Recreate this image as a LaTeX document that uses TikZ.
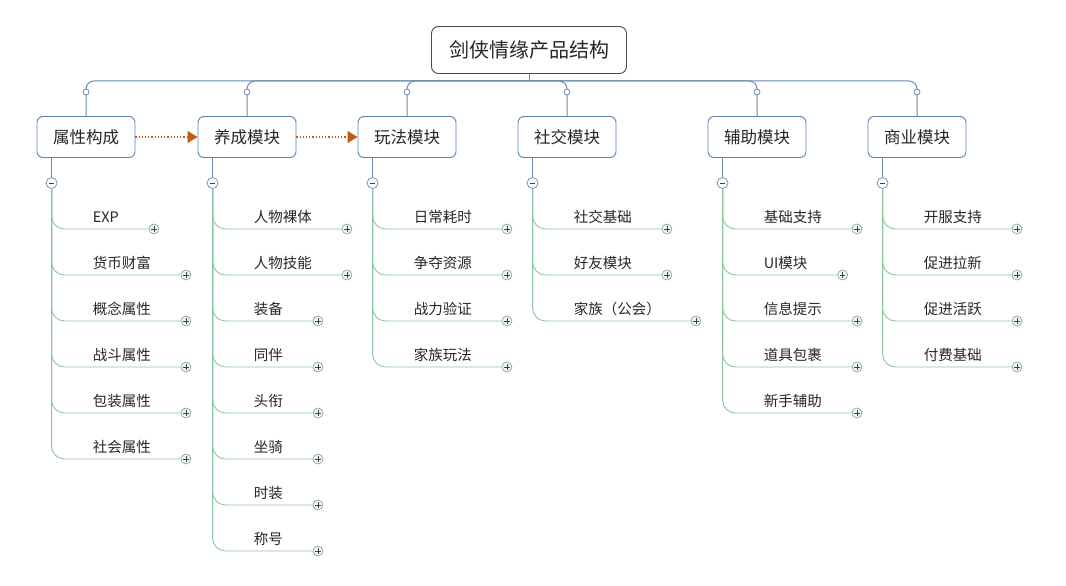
\documentclass[tikz,border=0pt]{standalone}
\usepackage{fontspec}
\setmainfont{Noto Sans CJK SC}
\usetikzlibrary{arrows.meta,calc,positioning}
\definecolor{busc}{HTML}{6A8AAE}
\definecolor{boxc}{HTML}{5A83B8}
\definecolor{leafc}{HTML}{8CC5A0}
\definecolor{arrc}{HTML}{C55A11}
\tikzset{root/.style={draw=black!70, line width=0.9pt, rounded corners=7pt, minimum width=195pt, minimum height=47pt,
    text=black!85, font=\fontsize{20}{24}\selectfont},
  modbox/.style={draw=boxc, line width=0.9pt, rounded corners=6pt, fill=white, minimum width=98pt, minimum height=41pt,
    text=black!85, font=\fontsize{16.5}{20}\selectfont},
  bus/.style={draw=busc, line width=1pt},
  knob/.style={circle, draw=busc, fill=white, inner sep=0pt, minimum size=6pt, line width=0.8pt},
  fold/.style={circle, fill=white, inner sep=0pt, line width=0.7pt},
  minus/.style={fold, draw=busc, minimum size=11pt, path picture={
    \draw[black!75, line width=0.8pt] ([xshift=-2.8pt]path picture bounding box.center) -- ([xshift=2.8pt]path picture bounding box.center);}},
  plus/.style={fold, draw=leafc!60!gray, fill=leafc!12, minimum size=10pt, path picture={
    \draw[black!75, line width=0.7pt] ([xshift=-2.6pt]path picture bounding box.center) -- ([xshift=2.6pt]path picture bounding box.center)
      ([yshift=-2.6pt]path picture bounding box.center) -- ([yshift=2.6pt]path picture bounding box.center);}},
  twig/.style={draw=leafc, line width=0.9pt, rounded corners=13pt},
  leaf/.style={inner sep=0pt, anchor=base west, text=black!85, font=\fontsize{14.5}{17}\selectfont},
  seq/.style={draw=arrc, dotted, line width=1.2pt, -{Triangle[length=10pt,width=12pt]}}}

\begin{document}
\begin{tikzpicture}[x=1pt, y=-1pt]
  \useasboundingbox (0,0) rectangle (1066,586);
  % root and main bus
  \node[root] (root) at (529,50) {剑侠情缘产品结构};
  \draw[bus] (root.south) -- (root.south |- 0,81);
  \foreach \n/\x/\t in {m1/86/属性构成, m2/247/养成模块, m3/407/玩法模块, m4/567/社交模块, m5/757/辅助模块, m6/917/商业模块}{
    \node[modbox] (\n) at (\x,137) {\t};
    \draw[bus, rounded corners=8pt] (root.south |- 0,81) -| (\n.north);
    \node[knob] (\n-k) at (\x,92) {};}
  % sequence arrows
  \draw[seq] (m1.east) -- (m2.west);
  \draw[seq] (m2.east) -- (m3.west);
  % fold buttons under each module
  \foreach \n in {m1,m2,m3,m4,m5,m6}{
    \node[minus] (\n-f) at ($(\n.west |- 0,183)+(15,0)$) {};
    \draw[bus] (\n.south -| \n-f) -- (\n-f.north);}
  % leaves
  \foreach \n/\lst in {m1/{EXP,货币财富,概念属性,战斗属性,包装属性,社会属性},
      m2/{人物裸体,人物技能,装备,同伴,头衔,坐骑,时装,称号},
      m3/{日常耗时,争夺资源,战力验证,家族玩法},
      m4/{社交基础,好友模块,家族（公会）},
      m5/{基础支持,UI模块,信息提示,道具包裹,新手辅助},
      m6/{开服支持,促进拉新,促进活跃,付费基础}}{
    \foreach \t [count=\i] in \lst {
      \node[leaf] (\n-\i) at ($(\n-f)+(41,{46*\i-7})$) {\t};
      \node[plus] (\n-p\i) at ($(\n-\i.base east)+(35,7)$) {};
      \draw[twig] (\n-f.south) |- (\n-p\i.west);}}
\end{tikzpicture}
\end{document}
